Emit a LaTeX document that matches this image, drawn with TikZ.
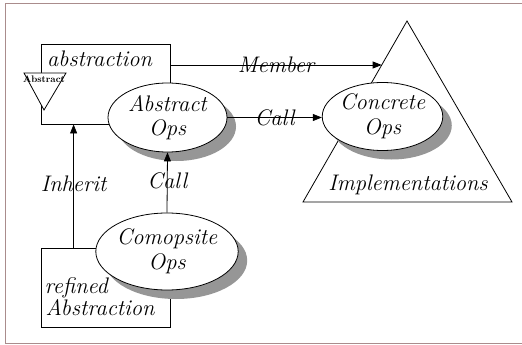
\documentclass[tikz,border=0pt]{standalone}
\usetikzlibrary{arrows.meta,shadows,shapes.geometric,calc}
\definecolor{framec}{RGB}{170,140,140}
\definecolor{shadowc}{RGB}{150,150,150}
\begin{document}
\begin{tikzpicture}[x=1pt,y=-1pt,
  txt/.style={font=\fontsize{22.5}{25}\selectfont\itshape, inner sep=0pt},
  box/.style={draw, line width=0.8pt, fill=white, inner sep=0pt},
  opsell/.style={ellipse, draw, line width=0.8pt, fill=white, inner sep=0pt, align=center,
    font=\fontsize{22.5}{24.5}\selectfont\itshape,
    drop shadow={shadow xshift=9pt, shadow yshift=-9pt, fill=shadowc, opacity=1}},
  arr/.style={line width=0.8pt, -{Triangle[length=9pt,width=7pt]}},
  lbl/.style={txt}
]
\useasboundingbox (0,0) rectangle (522,345);
% frame
\draw[framec, line width=0.9pt] (522,3) -- (5.5,3) -- (5.5,343.5) -- (522,343.5);

% abstraction box
\node[box, minimum width=129pt, minimum height=80pt] (abstraction) at (105.5,84) {};
\node[txt, anchor=base west] (abslabel) at (47,66.5) {abstraction};
\draw[line width=0.8pt, fill=white] (24,73) -- (66,73) -- (44,110) -- cycle;
\node[font=\fontsize{9.5}{10}\selectfont\bfseries, inner sep=0pt] (tinyabs) at (44,79.5) {Abstract};

% refined abstraction box
\node[box, minimum width=129pt, minimum height=79pt] (refined) at (105.5,287.5) {};
\node[txt, anchor=base west] (reflabel1) at (44.5,293) {refined};
\node[txt, anchor=base west] (reflabel2) at (45.5,315) {Abstraction};

% implementations triangle
\draw[line width=0.8pt, fill=white] (407,21) -- (303,202) -- (512,202) -- cycle;
\node[txt] (impl) at (408,185) {Implementations};
\coordinate (memberend) at (381.7,65);

% ellipses
\node[opsell, minimum width=119pt, minimum height=69pt] (absops) at (167.5,117.5) {Abstract\\Ops};
\node[opsell, minimum width=115pt, minimum height=68pt] (concops) at (382.5,116.5) {Concrete\\Ops};
\node[opsell, minimum width=128pt, minimum height=77pt] (compops) at (167,251.5) {Comopsite\\Ops};

% connectors
\draw[arr] (abstraction.east |- memberend) -- node[lbl] (memberlbl) {Member} (memberend);
\draw[arr] (absops.east) -- node[lbl] (call1) {Call} (absops.east -| concops.west);
\draw[arr] (compops.north) -- node[lbl, pos=0.52] (call2) {Call} (absops.south);
\draw[arr] ([xshift=33pt]refined.north west) -- node[lbl, pos=0.52] (inherit) {Inherit} ([xshift=33pt]abstraction.south west);
\end{tikzpicture}
\end{document}
